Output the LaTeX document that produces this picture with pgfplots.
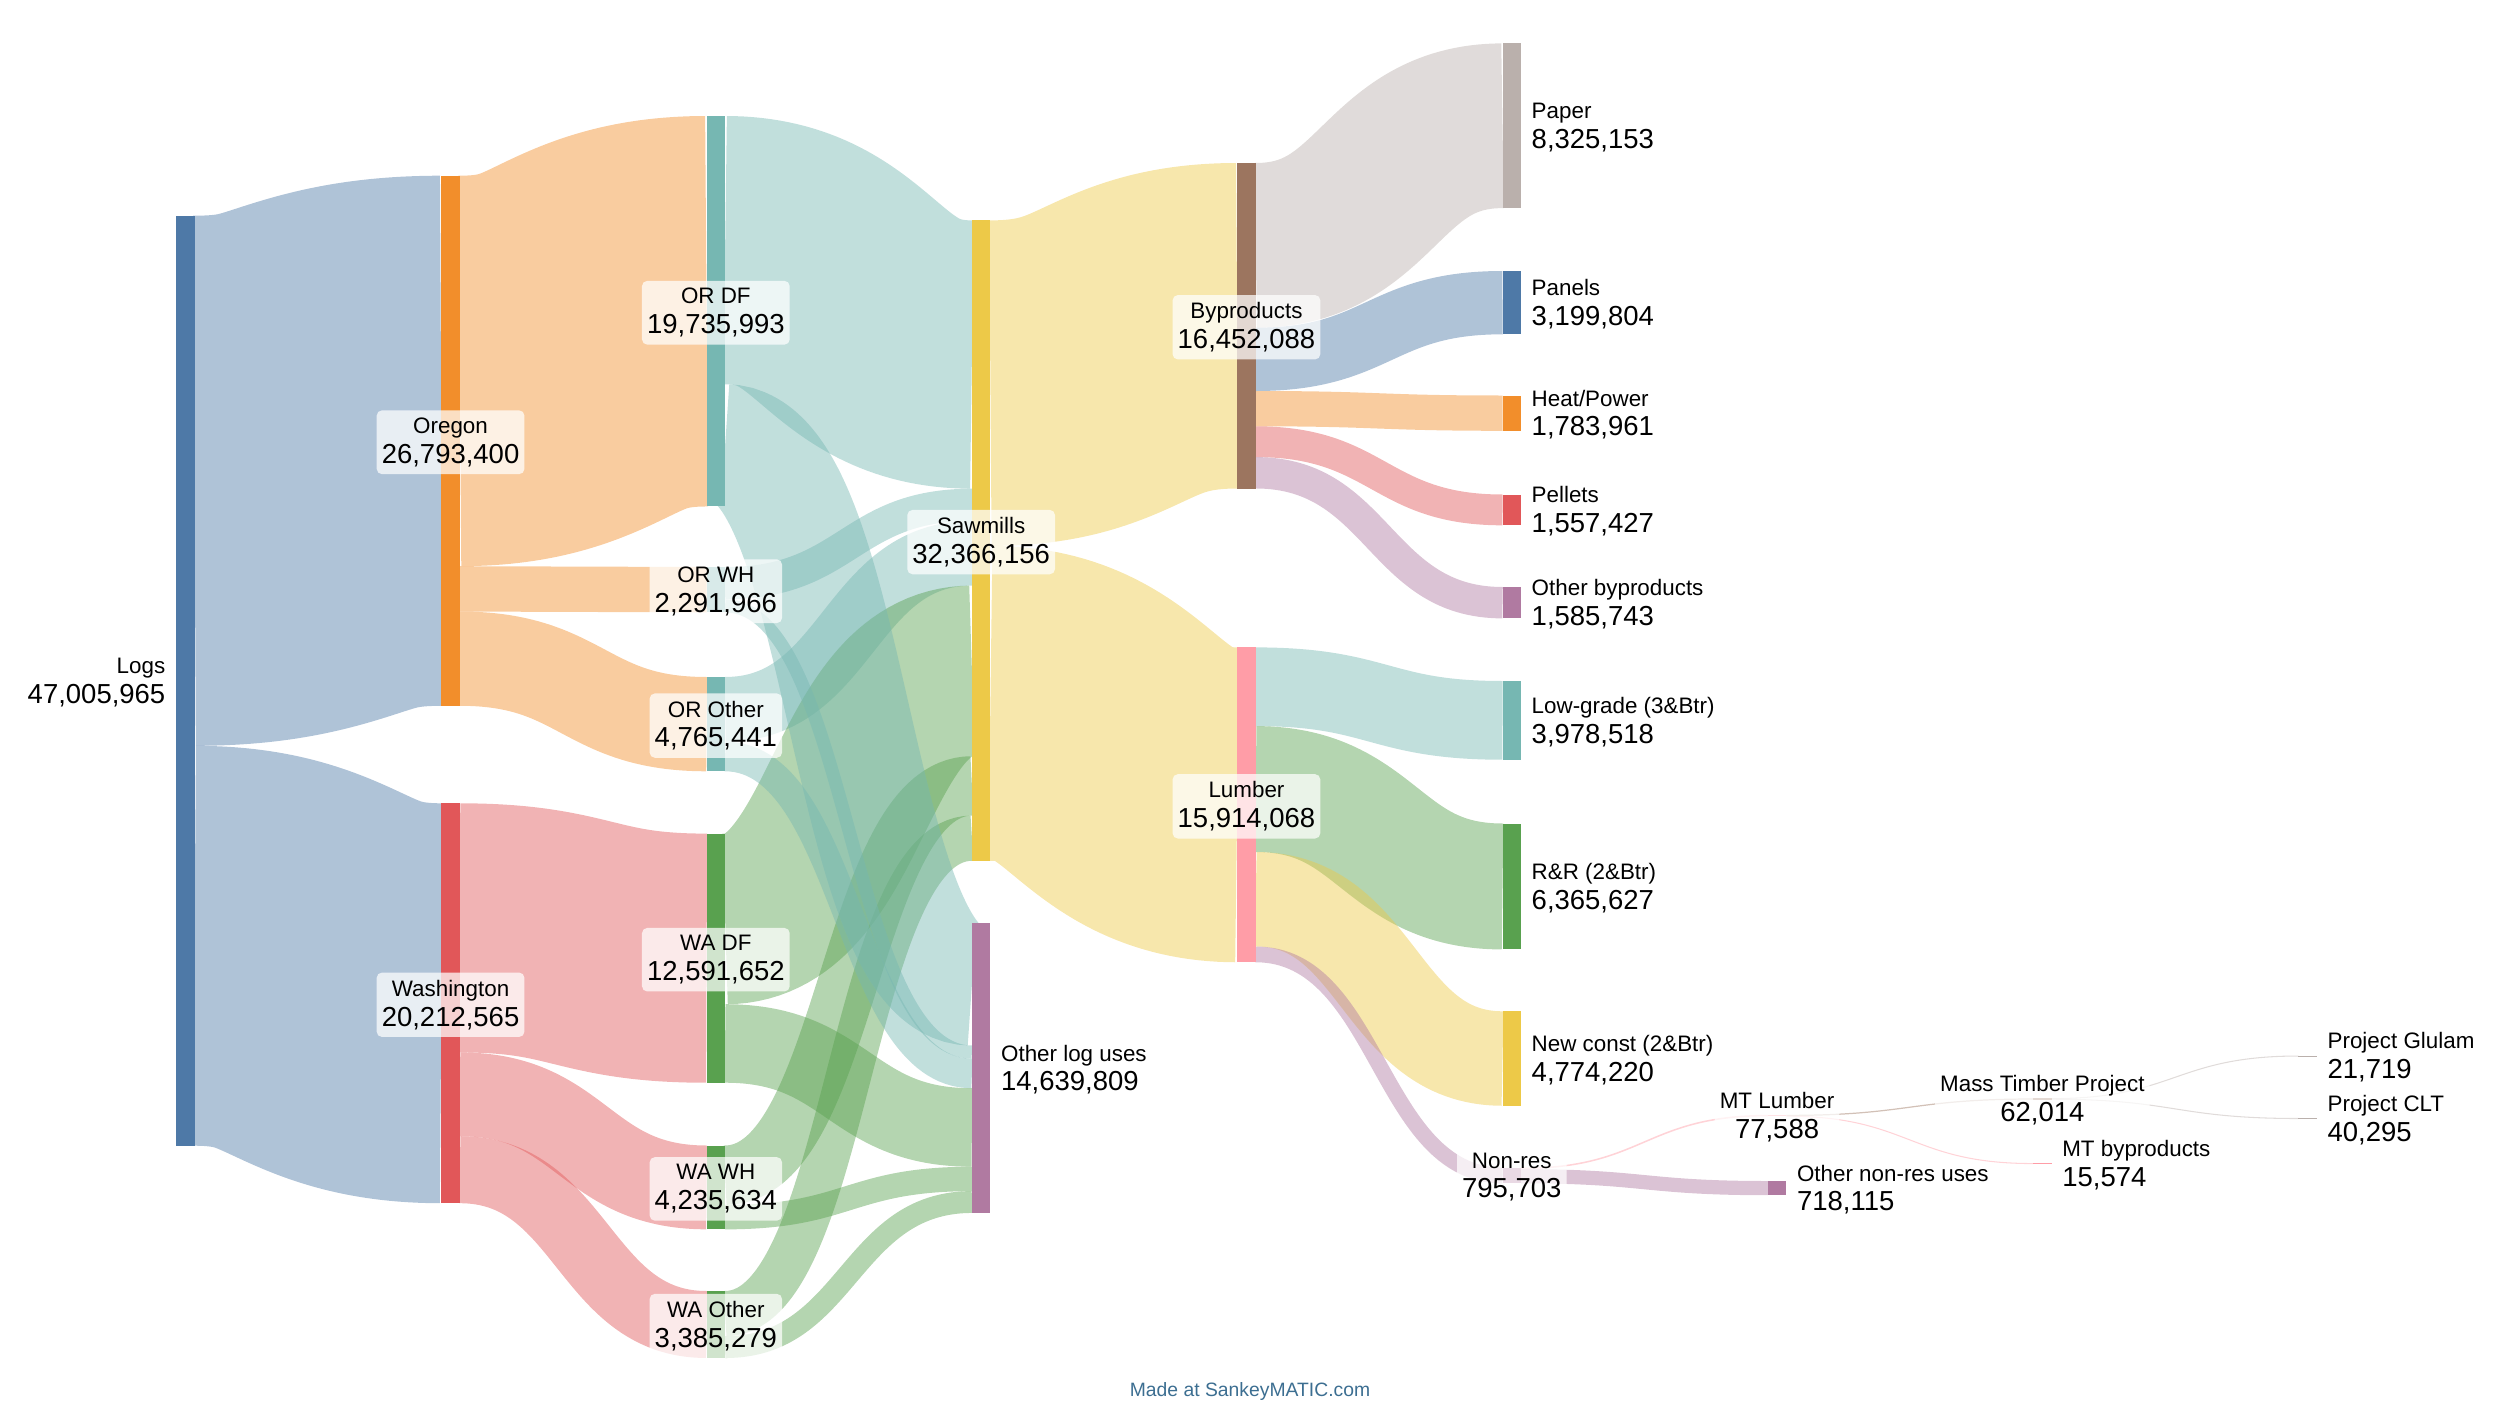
\documentclass[border=0pt]{standalone}
\usepackage{pgfplots}
\pgfplotsset{compat=1.18}
\usepackage{fontspec}
\setmainfont{Liberation Sans}
\definecolor{cblue}{HTML}{4E79A7}
\definecolor{corange}{HTML}{F28E2B}
\definecolor{cred}{HTML}{E15759}
\definecolor{cteal}{HTML}{76B7B2}
\definecolor{cgreen}{HTML}{59A14F}
\definecolor{cyellow}{HTML}{EDC948}
\definecolor{cpurple}{HTML}{B07AA1}
\definecolor{cpink}{HTML}{FF9DA7}
\definecolor{cbrown}{HTML}{9C755F}
\definecolor{cgray}{HTML}{BAB0AC}
\definecolor{cfoot}{RGB}{60,110,145}
\newcommand\namef{\fontsize{6.37}{8.5}\selectfont}
\newcommand\numf{\fontsize{7.82}{8.5}\selectfont}
% flow: colour, source x (right edge), source top y, target x (left edge), target top y, value (millions)
\newcommand\flow[6]{\draw[#1,draw opacity=0.45,line width={max(#6*5.6294,0.3)}] (axis cs:#2,{#3+#6*9.8925}) .. controls (axis cs:{(#2+#4)/2},{#3+#6*9.8925}) and (axis cs:{(#2+#4)/2},{#5+#6*9.8925}) .. (axis cs:#4,{#5+#6*9.8925});}
% node bar: colour, column x, top y, value (millions)
\newcommand\nbar[4]{\fill[#1] (axis cs:#2,#3) rectangle (axis cs:{#2+18.5},{#3+max(#4*19.785,1)});}
\newcommand\clab[4]{\node[font=\numf,align=center,fill=white,fill opacity=0.72,text opacity=1,rounded corners=1.5pt,inner xsep=1.45pt,inner ysep=2.1pt] at (axis cs:{#1+9.25},{#2+1.5}) {{\namef\vphantom{Ag}#3}\\\vphantom{0,}#4};}
\newcommand\rlab[4]{\node[font=\numf,align=left,anchor=west,inner sep=0pt] at (axis cs:{#1+28.5},{#2+1.5}) {{\namef\vphantom{Ag}#3}\\\vphantom{0,}#4};}
\begin{document}
\begin{tikzpicture}
\begin{axis}[scale only axis, width=25cm, height=14.06cm, xmin=0, xmax=2500, ymin=0, ymax=1406, y dir=reverse, hide axis, clip=false]
\addplot[draw=none] coordinates {(0,0) (2500,1406)};
\coordinate (BL) at (axis cs:0,1406);
\coordinate (TR) at (axis cs:2500,0);
% flows
\flow{cblue}{194.5}{215.7}{441.3}{175.7}{26.7934}
\flow{cblue}{194.5}{745.8}{441.3}{803.3}{20.212565}
\flow{corange}{459.8}{175.7}{706.6}{116.0}{19.735993}
\flow{corange}{459.8}{566.2}{706.6}{567}{2.291966}
\flow{corange}{459.8}{611.5}{706.6}{677}{4.765441}
\flow{cred}{459.8}{803.3}{706.6}{833.6}{12.591652}
\flow{cred}{459.8}{1052.4}{706.6}{1145.5}{4.235634}
\flow{cred}{459.8}{1136.2}{706.6}{1291}{3.385279}
\flow{cteal}{725.1}{116.0}{971.9}{220.4}{13.56}
\flow{cteal}{725.1}{567}{971.9}{488.7}{1.63}
\flow{cteal}{725.1}{677}{971.9}{520.9}{3.27}
\flow{cgreen}{725.1}{833.6}{971.9}{585.6}{8.624}
\flow{cgreen}{725.1}{1145.5}{971.9}{756.2}{3.0}
\flow{cgreen}{725.1}{1291}{971.9}{815.6}{2.282156}
\flow{cteal}{725.1}{384.3}{971.9}{923.3}{6.175993}
\flow{cteal}{725.1}{599.3}{971.9}{1045.5}{0.661966}
\flow{cteal}{725.1}{741.7}{971.9}{1058.6}{1.495441}
\flow{cgreen}{725.1}{1004.2}{971.9}{1088.2}{3.967652}
\flow{cgreen}{725.1}{1204.9}{971.9}{1166.7}{1.235634}
\flow{cgreen}{725.1}{1336.2}{971.9}{1191.1}{1.103123}
\flow{cyellow}{990.4}{220.4}{1237.2}{163.0}{16.452088}
\flow{cyellow}{990.4}{545.9}{1237.2}{647.4}{15.914068}
\flow{cgray}{1255.7}{163.0}{1502.5}{43.4}{8.325153}
\flow{cblue}{1255.7}{327.7}{1502.5}{271}{3.199804}
\flow{corange}{1255.7}{391.0}{1502.5}{395.5}{1.783961}
\flow{cred}{1255.7}{426.3}{1502.5}{494.5}{1.557427}
\flow{cpurple}{1255.7}{457.1}{1502.5}{587}{1.585743}
\flow{cteal}{1255.7}{647.4}{1502.5}{681}{3.978518}
\flow{cgreen}{1255.7}{726.1}{1502.5}{823.5}{6.365627}
\flow{cyellow}{1255.7}{852.0}{1502.5}{1011.3}{4.774220}
\flow{cpurple}{1255.7}{946.5}{1502.5}{1167.6}{0.795703}
\flow{cpink}{1521}{1167.6}{1767.8}{1114.8}{0.077588}
\flow{cpurple}{1521}{1169.1}{1767.8}{1181}{0.718115}
\flow{cbrown}{1786.3}{1114.8}{2033.1}{1098.4}{0.062014}
\flow{cpink}{1786.3}{1116.0}{2033.1}{1163.4}{0.015574}
\flow{cgray}{2051.6}{1098.4}{2298.4}{1055.8}{0.021719}
\flow{cgray}{2051.6}{1098.8}{2298.4}{1118.1}{0.040295}
% nodes
\nbar{cblue}{176}{215.7}{47.005965}
\nbar{corange}{441.3}{175.7}{26.7934}
\nbar{cred}{441.3}{803.3}{20.212565}
\nbar{cteal}{706.6}{116.0}{19.735993}
\nbar{cteal}{706.6}{567}{2.291966}
\nbar{cteal}{706.6}{677}{4.765441}
\nbar{cgreen}{706.6}{833.6}{12.591652}
\nbar{cgreen}{706.6}{1145.5}{4.235634}
\nbar{cgreen}{706.6}{1291}{3.385279}
\nbar{cyellow}{971.9}{220.4}{32.366156}
\nbar{cpurple}{971.9}{923.3}{14.639809}
\nbar{cbrown}{1237.2}{163.0}{16.452088}
\nbar{cpink}{1237.2}{647.4}{15.914068}
\nbar{cgray}{1502.5}{43.4}{8.325153}
\nbar{cblue}{1502.5}{271}{3.199804}
\nbar{corange}{1502.5}{395.5}{1.783961}
\nbar{cred}{1502.5}{494.5}{1.557427}
\nbar{cpurple}{1502.5}{587}{1.585743}
\nbar{cteal}{1502.5}{681}{3.978518}
\nbar{cgreen}{1502.5}{823.5}{6.365627}
\nbar{cyellow}{1502.5}{1011.3}{4.774220}
\nbar{cpurple}{1502.5}{1167.6}{0.795703}
\nbar{cpink}{1767.8}{1114.8}{0.077588}
\nbar{cpurple}{1767.8}{1181}{0.718115}
\nbar{cbrown}{2033.1}{1098.4}{0.062014}
\nbar{cpink}{2033.1}{1163.4}{0.015574}
\nbar{cgray}{2298.4}{1055.8}{0.021719}
\nbar{cgray}{2298.4}{1118.1}{0.040295}
% labels
\node[font=\numf,align=right,anchor=east,inner sep=0pt] at (axis cs:166,682.2) {{\namef\vphantom{Ag}Logs}\\\vphantom{0,}47,005,965};
\clab{441.3}{440.75}{Oregon}{26,793,400}
\clab{441.3}{1003.25}{Washington}{20,212,565}
\clab{706.6}{311.25}{OR DF}{19,735,993}
\clab{706.6}{589.7}{OR WH}{2,291,966}
\clab{706.6}{724.1}{OR Other}{4,765,441}
\clab{706.6}{958.2}{WA DF}{12,591,652}
\clab{706.6}{1187.4}{WA WH}{4,235,634}
\clab{706.6}{1324.5}{WA Other}{3,385,279}
\clab{971.9}{540.6}{Sawmills}{32,366,156}
\clab{1237.2}{325.75}{Byproducts}{16,452,088}
\clab{1237.2}{804.85}{Lumber}{15,914,068}
\clab{1502.5}{1175.5}{Non-res}{795,703}
\clab{1767.8}{1115.5}{MT Lumber}{77,588}
\clab{2033.1}{1099}{Mass Timber Project}{62,014}
\rlab{971.9}{1068.15}{Other log uses}{14,639,809}
\rlab{1502.5}{125.75}{Paper}{8,325,153}
\rlab{1502.5}{302.65}{Panels}{3,199,804}
\rlab{1502.5}{413.15}{Heat/Power}{1,783,961}
\rlab{1502.5}{509.9}{Pellets}{1,557,427}
\rlab{1502.5}{602.7}{Other byproducts}{1,585,743}
\rlab{1502.5}{720.35}{Low-grade (3\&Btr)}{3,978,518}
\rlab{1502.5}{886.5}{R\&R (2\&Btr)}{6,365,627}
\rlab{1502.5}{1058.5}{New const (2\&Btr)}{4,774,220}
\rlab{1767.8}{1188.1}{Other non-res uses}{718,115}
\rlab{2033.1}{1163.5}{MT byproducts}{15,574}
\rlab{2298.4}{1056}{Project Glulam}{21,719}
\rlab{2298.4}{1118.5}{Project CLT}{40,295}
\node[font=\fontsize{5.5}{6}\selectfont,text=cfoot] at (axis cs:1250,1391) {Made at SankeyMATIC.com};
\end{axis}
\pgfresetboundingbox
\path (BL) rectangle (TR);
\end{tikzpicture}
\end{document}
